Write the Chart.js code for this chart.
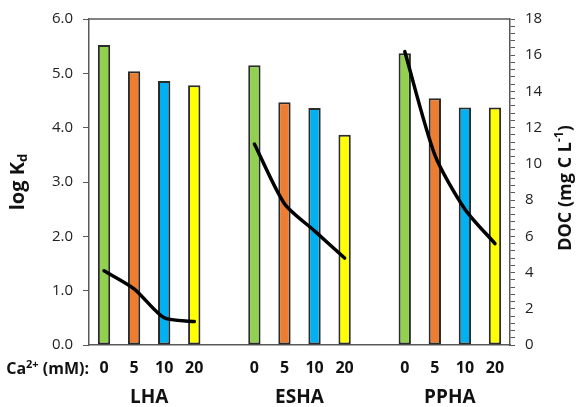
<!DOCTYPE html>
<html>
<head>
<meta charset="utf-8">
<script src="https://cdn.jsdelivr.net/npm/chart.js@4"></script>
<style>
  html, body { margin: 0; padding: 0; background: #fff; }
</style>
</head>
<body>
<canvas id="kdChart" width="584" height="407"></canvas>
<script>
// humic acids and Ca2+ levels (mM)
const groups = ['LHA', 'ESHA', 'PPHA'];
const caLevels = ['0', '5', '10', '20'];
const barColors = ['#92D050', '#ED7D31', '#00B0F0', '#FFFF00'];

// log Kd (left axis)
const logKdLHA = [5.52, 5.04, 4.86, 4.78];
const logKdESHA = [5.15, 4.47, 4.36, 3.87];
const logKdPPHA = [5.37, 4.54, 4.37, 4.37];

// DOC, mg C/L (right axis)
const docLHA = [4.1, 3.1, 1.5, 1.3];
const docESHA = [11.1, 7.8, 6.3, 4.8];
const docPPHA = [16.2, 10.5, 7.5, 5.6];

// join the groups with one empty slot between them
function withGaps(parts, filler) {
  const out = [];
  parts.forEach((p, i) => {
    if (i > 0) out.push(filler);
    out.push(...p);
  });
  return out;
}

const labels = withGaps(groups.map(() => caLevels), '');
const kdValues = withGaps([logKdLHA, logKdESHA, logKdPPHA], null);
const docValues = withGaps([docLHA, docESHA, docPPHA], null);
const colors = withGaps(groups.map(() => barColors), 'rgba(0,0,0,0)');

const FONT = '"Open Sans", sans-serif';
const AXIS = '#595959';

// box edge, axis titles and group names
const extras = {
  id: 'extras',
  afterDraw(chart) {
    const { ctx, chartArea, scales } = chart;
    ctx.save();

    ctx.strokeStyle = AXIS;
    ctx.lineWidth = 1.5;
    ctx.beginPath();
    ctx.moveTo(chartArea.left, chartArea.top);
    ctx.lineTo(chartArea.right, chartArea.top);
    ctx.stroke();

    ctx.fillStyle = '#111';
    ctx.textBaseline = 'middle';

    // group names under each set of bars
    ctx.font = 'bold 19px ' + FONT;
    ctx.textAlign = 'center';
    groups.forEach((g, i) => {
      const x0 = scales.x.getPixelForValue(i * 5);
      const x1 = scales.x.getPixelForValue(i * 5 + 3);
      ctx.fillText(g, (x0 + x1) / 2, 398);
    });

    // "Ca2+ (mM):" in front of the tick labels
    ctx.textAlign = 'left';
    const big = 'bold 16px ' + FONT;
    const small = 'bold 11px ' + FONT;
    ctx.font = big;
    const wCa = ctx.measureText('Ca').width;
    const wRest = ctx.measureText(' (mM):').width;
    ctx.font = small;
    const wSup = ctx.measureText('2+').width;
    let x = 89 - (wCa + wSup + wRest);
    const y = 369;
    ctx.font = big;
    ctx.fillText('Ca', x, y);
    x += wCa;
    ctx.font = small;
    ctx.fillText('2+', x, y - 4);
    x += wSup;
    ctx.font = big;
    ctx.fillText(' (mM):', x, y);

    // left title: log Kd
    ctx.save();
    ctx.translate(18, 182);
    ctx.rotate(-Math.PI / 2);
    const tBig = 'bold 20px ' + FONT;
    const tSmall = 'bold 13px ' + FONT;
    ctx.font = tBig;
    const wLog = ctx.measureText('log K').width;
    ctx.font = tSmall;
    const wD = ctx.measureText('d').width;
    let tx = -(wLog + wD) / 2;
    ctx.font = tBig;
    ctx.fillText('log K', tx, 0);
    ctx.font = tSmall;
    ctx.fillText('d', tx + wLog, 5);
    ctx.restore();

    // right title: DOC (mg C L-1)
    ctx.save();
    ctx.translate(566, 188);
    ctx.rotate(-Math.PI / 2);
    const rBig = 'bold 18px ' + FONT;
    const rSmall = 'bold 12px ' + FONT;
    ctx.font = rBig;
    const wA = ctx.measureText('DOC (mg C L').width;
    const wB = ctx.measureText(')').width;
    ctx.font = rSmall;
    const wE = ctx.measureText('-1').width;
    tx = -(wA + wE + wB) / 2;
    ctx.font = rBig;
    ctx.fillText('DOC (mg C L', tx, 0);
    ctx.font = rSmall;
    ctx.fillText('-1', tx + wA, -6);
    ctx.font = rBig;
    ctx.fillText(')', tx + wA + wE, 0);
    ctx.restore();

    ctx.restore();
  }
};

new Chart(document.getElementById('kdChart'), {
  data: {
    labels: labels,
    datasets: [
      {
        type: 'line',
        data: docValues,
        yAxisID: 'y1',
        borderColor: '#000',
        borderWidth: 3.5,
        borderCapStyle: 'round',
        borderJoinStyle: 'round',
        pointRadius: 0,
        tension: 0.25,
        spanGaps: false,
        order: 0
      },
      {
        type: 'bar',
        data: kdValues,
        yAxisID: 'y',
        backgroundColor: colors,
        borderColor: '#2b2b2b',
        borderWidth: { top: 2, right: 2, bottom: 2, left: 2 },
        borderSkipped: false,
        inflateAmount: 0,
        barPercentage: 0.41,
        categoryPercentage: 1,
        order: 1
      }
    ]
  },
  options: {
    responsive: false,
    animation: false,
    devicePixelRatio: 1,
    layout: { padding: { top: 19, left: 0, right: 0, bottom: 0 } },
    plugins: { legend: { display: false }, tooltip: { enabled: false } },
    scales: {
      x: {
        offset: true,
        grid: { drawOnChartArea: false, drawTicks: false },
        border: { color: AXIS, width: 1.5 },
        ticks: {
          font: { family: FONT, size: 16, weight: 'bold' },
          color: '#111',
          padding: 14,
          maxRotation: 0,
          autoSkip: false
        },
        afterFit(scale) { scale.height = 407 - 345; }
      },
      y: {
        position: 'left',
        min: 0,
        max: 6,
        grid: { drawOnChartArea: false, tickLength: 6, tickColor: AXIS },
        border: { color: AXIS, width: 1.5 },
        ticks: {
          stepSize: 1,
          font: { family: FONT, size: 15 },
          color: '#222',
          padding: 10,
          callback: (v) => v.toFixed(1)
        },
        afterFit(scale) { scale.width = 89; }
      },
      y1: {
        position: 'right',
        min: 0,
        max: 18,
        grid: { drawOnChartArea: false, tickLength: 5, tickColor: AXIS },
        border: { color: AXIS, width: 1.5 },
        ticks: {
          stepSize: 0.4,
          autoSkip: false,
          font: { family: FONT, size: 15 },
          color: '#222',
          padding: 10,
          callback: (v) => Math.abs(v / 2 - Math.round(v / 2)) < 1e-6 ? String(Math.round(v)) : ''
        },
        afterFit(scale) { scale.width = 584 - 510; }
      }
    }
  },
  plugins: [extras]
});
</script>
</body>
</html>
